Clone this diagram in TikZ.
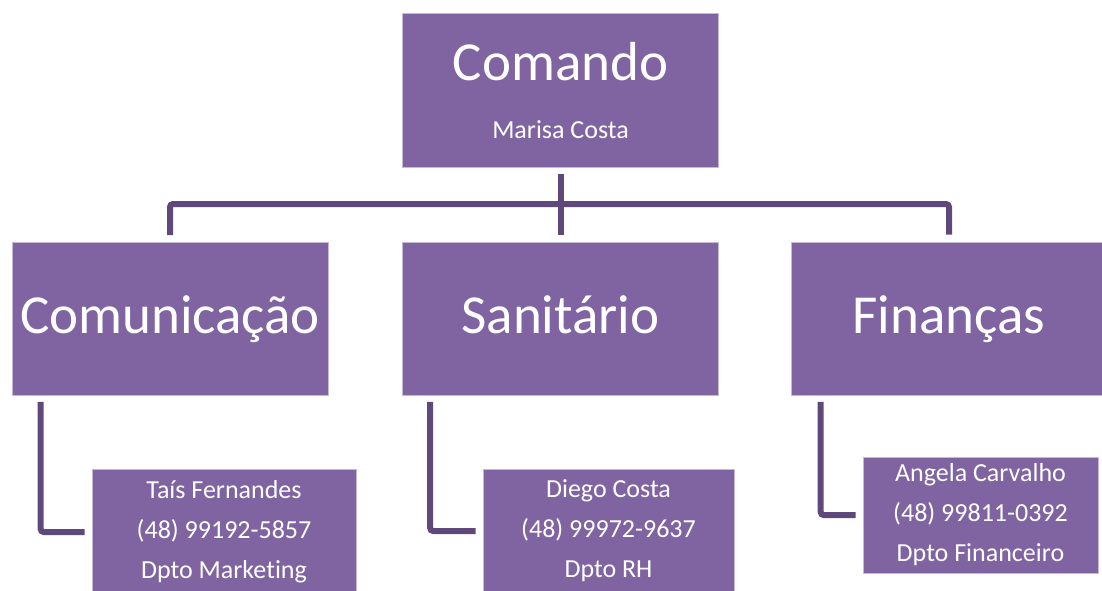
\documentclass[tikz,border=0pt]{standalone}
\usepackage{fontspec}
\setmainfont{Carlito}[Ligatures=CommonOff]
\usepackage{xcolor}
\usetikzlibrary{positioning}
\definecolor{boxpurple}{HTML}{8064A2}
\definecolor{linkpurple}{HTML}{5F497A}
\newcommand{\bigname}{\fontsize{55}{60}\selectfont}
\newcommand{\smallname}{\fontsize{26}{40}\selectfont}
\tikzset{
  unit/.style={fill=boxpurple, draw=boxpurple!45!white, line width=0.6pt, text=white, align=center, inner sep=0pt},
  area/.style={unit, font=\bigname, text height=42pt, text depth=12pt, minimum width=316pt, minimum height=153pt},
  link/.style={draw=linkpurple, line width=6pt, rounded corners=3pt, shorten <=6.5pt, shorten >=7pt},
}
\begin{document}
\begin{tikzpicture}[x=1pt,y=-1pt]
\clip (0,0) rectangle (1102,590);

\node (comando) [unit, font=\smallname, minimum width=316pt, minimum height=154pt] at (560.5,90) {{\bigname Comando}\\[18pt]Marisa Costa};

\node (comunicacao) [area] at (170,318.5) {Comunicação};
\node (sanitario) [area] at (560.5,318.5) {Sanitário};
\node (financas) [area] at (949,318.5) {Finanças};

\node (tais) [unit, font=\smallname, minimum width=264pt, minimum height=126pt] at (224,532) {Taís Fernandes\\(48) 99192-5857\\Dpto Marketing};
\node (diego) [unit, font=\smallname, minimum width=251pt, minimum height=124pt] at (608.5,531) {Diego Costa\\(48) 99972-9637\\Dpto RH};
\node (angela) [unit, font=\smallname, minimum width=235pt, minimum height=116pt] at (980.5,515) {Angela Carvalho\\(48) 99811-0392\\Dpto Financeiro};

\coordinate (bus) at (560.5,204);
\draw [link] (comando) -- (sanitario);
\draw [link] (comunicacao.north) |- (bus) -| (financas.north);

\draw [link] ([xshift=29pt]comunicacao.south west) |- (tais.west);
\draw [link] ([xshift=28pt]sanitario.south west) |- (diego.west);
\draw [link] ([xshift=30pt]financas.south west) |- (angela.west);
\end{tikzpicture}
\end{document}
